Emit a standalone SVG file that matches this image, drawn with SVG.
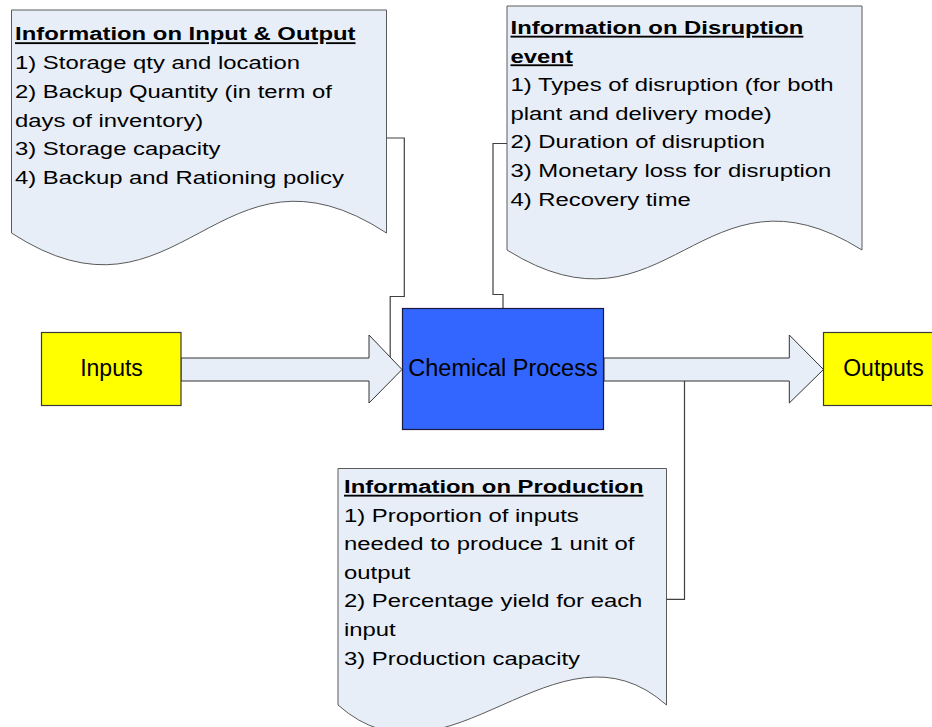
<svg xmlns="http://www.w3.org/2000/svg" width="932" height="727" viewBox="0 0 932 727">
  <style>
    .doc { fill: #E8EEF8; stroke: #5a5a5a; stroke-width: 1; }
    .conn { fill: none; stroke: #404040; stroke-width: 1.2; }
    .arrow { fill: #E8EEF8; stroke: #333333; stroke-width: 1; }
    .term { fill: #FFFF00; stroke: #3a3a3a; stroke-width: 1.2; }
    .proc { fill: #3366FF; stroke: #1a1a40; stroke-width: 1.2; }
    .t { font-family: "Liberation Sans", Arial, sans-serif; font-size: 18.5px; fill: #000000; }
    .h { font-weight: bold; text-decoration: underline; }
    .lbl { font-family: "Liberation Sans", Arial, sans-serif; font-size: 23px; fill: #000000; text-anchor: middle; }
  </style>

  <!-- information sheets (document shapes with wavy bottom) -->
  <g id="info-io">
    <path class="doc" d="M11.5,10 H386.5 V233 C218,123 180.5,343 11.5,233 Z"/>
    <text class="t" transform="matrix(1.29 0 0 1 15 0)">
      <tspan class="h" x="0" y="40.5">Information on Input &amp; Output</tspan>
      <tspan x="0" y="69.2">1) Storage qty and location</tspan>
      <tspan x="0" y="97.9">2) Backup Quantity (in term of</tspan>
      <tspan x="0" y="126.6">days of inventory)</tspan>
      <tspan x="0" y="155.3">3) Storage capacity</tspan>
      <tspan x="0" y="184">4) Backup and Rationing policy</tspan>
    </text>
  </g>

  <g id="info-disruption">
    <path class="doc" d="M507,6 H862 V250 C702,150 667,350 507,250 Z"/>
    <text class="t" transform="matrix(1.29 0 0 1 510.5 0)">
      <tspan class="h" x="0" y="34">Information on Disruption</tspan>
      <tspan class="h" x="0" y="62.6">event</tspan>
      <tspan x="0" y="91.2">1) Types of disruption (for both</tspan>
      <tspan x="0" y="119.8">plant and delivery mode)</tspan>
      <tspan x="0" y="148.4">2) Duration of disruption</tspan>
      <tspan x="0" y="177">3) Monetary loss for disruption</tspan>
      <tspan x="0" y="205.6">4) Recovery time</tspan>
    </text>
  </g>

  <g id="info-production">
    <path class="doc" d="M338,468.5 H666.5 V705 C557,608 447.5,802 338,705 Z"/>
    <text class="t" transform="matrix(1.29 0 0 1 344 0)">
      <tspan class="h" x="0" y="493">Information on Production</tspan>
      <tspan x="0" y="521.6">1) Proportion of inputs</tspan>
      <tspan x="0" y="550.2">needed to produce 1 unit of</tspan>
      <tspan x="0" y="578.8">output</tspan>
      <tspan x="0" y="607.4">2) Percentage yield for each</tspan>
      <tspan x="0" y="636">input</tspan>
      <tspan x="0" y="664.6">3) Production capacity</tspan>
    </text>
  </g>

  <!-- elbow connectors -->
  <g id="connectors">
    <path class="conn" d="M386.5,138 H404.3 V296.5 H390.2 V362"/>
    <path class="conn" d="M507,143.5 H493 V294.5 H503 V308.5"/>
    <path class="conn" d="M666.5,599.3 H684.5 V376"/>
  </g>

  <!-- block flow arrows -->
  <g id="flow-in">
    <path class="arrow" d="M181,358 H369 V335 L402,369.5 L369,403 V381 H181 Z"/>
  </g>
  <g id="flow-out">
    <path class="arrow" d="M604,358 H789.3 V335 L823.5,369.5 L789.3,403 V381 H604 Z"/>
  </g>

  <!-- process blocks -->
  <g id="inputs">
    <rect class="term" x="41.5" y="332.5" width="139.5" height="73"/>
    <text class="lbl" x="111.5" y="376">Inputs</text>
  </g>
  <g id="chemical-process">
    <rect class="proc" x="402.5" y="308.5" width="201" height="121"/>
    <text class="lbl" x="503" y="376" style="font-size:23.5px">Chemical Process</text>
  </g>
  <g id="outputs">
    <rect class="term" x="823.5" y="332.5" width="125" height="73"/>
    <text class="lbl" x="883.5" y="376">Outputs</text>
  </g>
</svg>
